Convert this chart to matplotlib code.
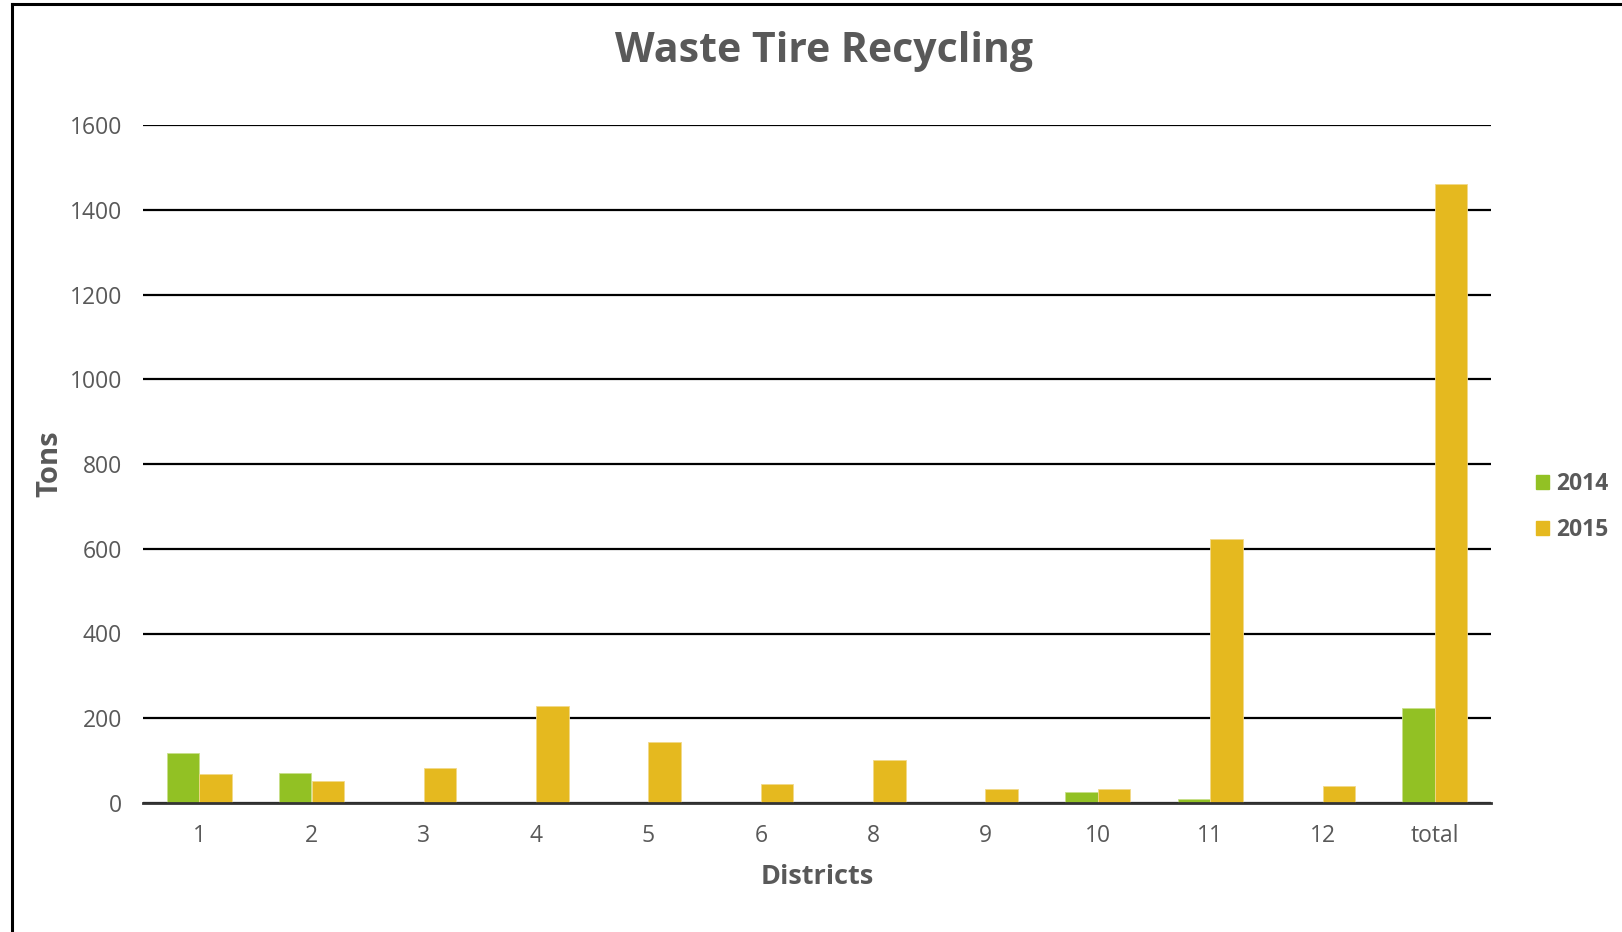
import matplotlib
matplotlib.use('Agg')
import matplotlib.pyplot as plt
import numpy as np
from matplotlib.lines import Line2D
from matplotlib.patches import Patch

districts = ['1', '2', '3', '4', '5', '6', '8', '9', '10', '11', '12', 'total']
tons_2014 = [117, 71, 0, 0, 0, 0, 0, 0, 25, 10, 0, 224]
tons_2015 = [68, 51, 82, 229, 143, 46, 101, 34, 32, 623, 40, 1460]
y_ticks = [0, 200, 400, 600, 800, 1000, 1200, 1400, 1600]

green = '#92c124'
yellow = '#e5b91f'
text_grey = '#595959'

plt.rcParams['font.family'] = ['Open Sans', 'DejaVu Sans']

fig = plt.figure(figsize=(16.22, 9.32), dpi=100)
ax = fig.add_axes([143 / 1622, 1 - 803 / 932, (1491 - 143) / 1622, (803 - 125) / 932])

x = np.arange(len(districts))
w = 0.29
ax.bar(x - w / 2, tons_2014, w, color=green, edgecolor='#c8e08a', linewidth=0.6, zorder=3)
ax.bar(x + w / 2, tons_2015, w, color=yellow, edgecolor='#f2d98a', linewidth=0.6, zorder=3)

ax.set_xlim(-0.5, len(districts) - 0.5)
ax.set_ylim(0, 1600)
ax.set_yticks(y_ticks)
ax.set_xticks(x)
ax.set_xticklabels(districts)
ax.yaxis.grid(True, color='black', linewidth=1.6, zorder=0)
ax.set_axisbelow(True)
for s in ['top', 'right', 'left']:
    ax.spines[s].set_visible(False)
ax.spines['bottom'].set_color('#333333')
ax.spines['bottom'].set_linewidth(2)
ax.spines['bottom'].set_zorder(4)
ax.tick_params(axis='both', length=0, labelsize=16.5, colors=text_grey)
ax.tick_params(axis='y', pad=15)
ax.tick_params(axis='x', pad=15)

ax.set_ylabel('Tons', fontsize=21, fontweight='bold', color=text_grey, labelpad=4)
ax.set_xlabel('Districts', fontsize=19.5, fontweight='bold', color=text_grey, labelpad=12)

fig.text(824 / 1622, 1 - 51 / 932, 'Waste Tire Recycling', ha='center', va='center',
         fontsize=29.5, fontweight='bold', color=text_grey)

handles = [Patch(color=green, label='2014'), Patch(color=yellow, label='2015')]
fig.legend(handles=handles, loc='center left', bbox_to_anchor=(1515 / 1622, 1 - 507 / 932),
           frameon=False, prop={'size': 16.5, 'weight': 'bold'}, labelcolor=text_grey,
           handlelength=0.6, handleheight=0.6, handletextpad=0.3, labelspacing=0.95)

# outer frame (left and top edges only)
fig.add_artist(Line2D([12 / 1622, 12 / 1622], [0, 1 - 4 / 932], color='black', linewidth=2.2))
fig.add_artist(Line2D([12 / 1622, 1], [1 - 4 / 932, 1 - 4 / 932], color='black', linewidth=2.2))

fig.savefig('out.png', dpi=100, facecolor='white')
